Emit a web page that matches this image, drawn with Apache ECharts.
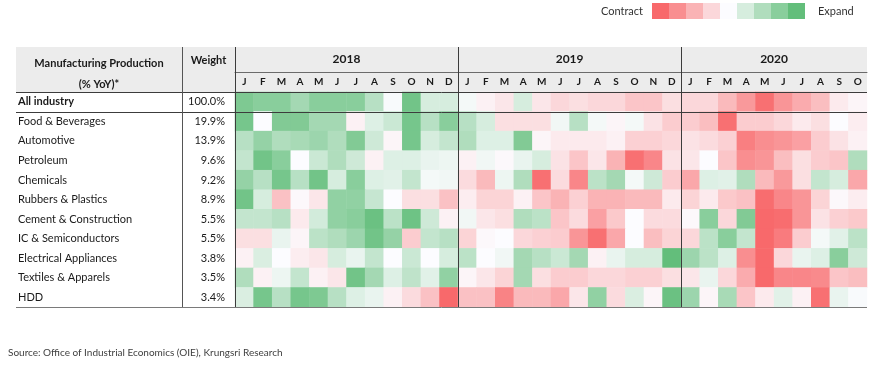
<!DOCTYPE html>
<html><head><meta charset="utf-8">
<script src="https://cdn.jsdelivr.net/npm/echarts@6/dist/echarts.min.js"></script>
<style>html,body{margin:0;padding:0;background:#fff}#c{width:870px;height:366px}</style>
</head><body><div id="c"></div>
<script>
// ---------------- data ----------------
const industries = ['All industry','Food & Beverages','Automotive','Petroleum','Chemicals','Rubbers & Plastics',
  'Cement & Construction','IC & Semiconductors','Electrical Appliances','Textiles & Apparels','HDD'];
const weights = ['100.0%','19.9%','13.9%','9.6%','9.2%','8.9%','5.5%','5.5%','3.8%','3.5%','3.4%'];
const years = ['2018','2019','2020'];
const monthsPerYear = [12, 12, 10];
const monthLetters = ['J','F','M','A','M','J','J','A','S','O','N','D'];
const legendLevels = [-4,-3,-2,-1,0,1,2,3,4];
const legendEnds = ['Contract', 'Expand'];
// colour-scale intensity read from the cell shades (-4 = strongest contraction, +4 = strongest expansion)
const allIndustry   = [3.3,3,3,2.3,3,3,3,1.8,0.1,3.6,1,1,   0.2,-0.3,-0.6,1,-0.6,-1,-0.8,-1,-1,-1.5,-1.5,-0.8,   -1,-1,-1.8,-2.7,-3.8,-2.8,-2.2,-1.7,-0.5,-0.2];
const foodBev       = [3.5,0,3.2,3.2,2.3,2.3,-0.3,0.8,1.3,3.5,1.8,3,   1.8,1,-0.8,-0.8,-0.8,0.3,1.8,0.2,-0.2,0.2,-0.7,-1.3,   -1.3,-1.7,-3.8,-1.3,-1.3,-1,-0.5,-0.8,0,-0.4];
const automotive    = [1.8,2.7,2,2.2,2.5,2,3.2,1.2,-0.2,3.5,1,1.5,   2,0.8,0.8,3.2,-0.2,-0.5,-0.5,-0.5,-0.3,-1.2,-1.2,-1,   -0.7,-0.9,-1.2,-3.4,-3,-2.8,-2.5,-1.3,-0.7,-0.3];
const petroleum     = [1.5,3.6,3,0,1.3,2,1.2,-0.3,0.8,0.8,0.5,0.4,   -0.3,0.3,-0.1,0.5,1,-0.7,-1.5,-0.6,-2,-3.8,-3.2,-0.7,   -0.6,0,-1.5,-3,-2.8,-1.7,-0.8,-1.3,-1.5,2];
const chemicals     = [2.7,1.8,3.5,1.8,3.6,1,3,0.8,0.7,1.5,0.2,0.3,   -0.9,-1.8,0.4,2,-3.8,-0.9,-3.2,1.7,2.3,0.2,1.2,-1.3,   -2.3,0.8,0.7,2,-1.8,-2.7,-0.8,1.5,1,-2.3];
const rubbers       = [3.6,1,-1.6,-0.1,-0.6,2.8,2.8,1.4,0,-0.8,-0.8,-1.6,   -0.4,-1.1,-1.1,-0.3,-1.5,-2,-1.2,-2,-2,-1.8,-1.8,-0.5,   -1.1,-0.5,-1.4,-1.6,-3.9,-3.2,-2.8,-1.1,-0.1,-0.4];
const cement        = [1.5,1.5,1.8,-0.5,1.1,2.8,3,3.8,1.7,3.7,1.2,-0.3,   0.3,-0.6,-0.8,2,1.7,-1.5,-0.9,-2.5,-1.4,0,-0.9,-0.9,   -0.1,3,-1,3.2,-4,-3.9,-2.8,-0.7,-1.2,-1.4];
const icSemi        = [-0.8,-0.8,0.5,-0.2,1.7,2,2.5,3.6,2.7,-1.3,1.5,1.8,   -1.1,-0.1,0,-1,-1.2,-1.3,-2.8,-3.8,-2.3,0,-1.7,-1.1,   -1,1.7,3,1.5,-4,-3.5,-1.3,0.2,0.7,1.7];
const electrical    = [-0.3,0.9,0,-0.4,-0.6,1,0.5,1.5,0,1.3,0,1,   1.7,0,0.3,2.3,1.8,1.3,2.3,-0.3,0.5,1,1,4,   2.5,1.7,0.8,-3,-4,-1,0.5,0.8,3,1.2];
const textiles      = [2,-0.3,0.4,1.5,-0.3,-0.6,3.6,2.3,0.8,1.6,0.7,2.8,   -0.2,-0.6,-1.1,2.3,-0.8,-1.3,-1.3,-1,-1,-1.2,-1.2,-0.8,   -0.6,0.5,-1,-2.2,-4,-3.2,-3.2,-3.1,-1.5,-1.7];
const hdd           = [0.9,3.5,1.8,3.5,3.3,1.8,0.8,0.5,-0.3,-0.9,-1.6,-4,   -1.6,-1.6,-3.3,-1.8,-1.8,-2.3,-0.6,2.8,-0.9,0.9,-0.2,3.8,   2.5,-0.2,2.2,-1.5,-0.5,0.7,-0.3,-3.8,0.5,0.1];
const rows = [allIndustry, foodBev, automotive, petroleum, chemicals, rubbers, cement, icSemi, electrical, textiles, hdd];

// ---------------- build ----------------
const palette = ['#F8696B', '#FCFCFF', '#63BE7B'];
const months = [];
monthsPerYear.forEach(n => { for (let i = 0; i < n; i++) months.push(monthLetters[i]); });
const nMonths = months.length;
const yearCenter = {};
let acc = 0;
monthsPerYear.forEach((n, i) => { yearCenter[acc + n / 2] = years[i]; acc += n; });
const yearBounds = [];
acc = 0;
monthsPerYear.forEach(n => { acc += n; yearBounds.push(acc); });

const heat = [];
rows.forEach((r, yi) => r.forEach((v, xi) => heat.push([xi, yi, v])));

const FONT = 'Lato, "Open Sans", sans-serif';
const TXT = '#1a1a1a';
const chart = echarts.init(document.getElementById('c'), null, { renderer: 'canvas' });

const legendLeft = 652, legendTop = 3, legendItemW = 17, legendItemH = 16;

const option = {
  animation: false,
  textStyle: { fontFamily: FONT },
  title: {
    text: 'Source: Office of Industrial Economics (OIE), Krungsri Research',
    left: 3, top: 343,
    textStyle: { fontFamily: FONT, fontSize: 10, fontWeight: 'normal', color: '#404040' }
  },
  grid: { left: 235, right: 2, top: 92, bottom: 59 },
  xAxis: [{
    type: 'category', data: months, position: 'top',
    axisLine: { show: false }, axisTick: { show: false }, splitLine: { show: false },
    axisLabel: { interval: 0, margin: 5, fontSize: 10, fontWeight: 'bold', color: TXT, fontFamily: FONT }
  }, {
    type: 'value', min: 0, max: nMonths, interval: 1, position: 'top', offset: 20,
    axisLine: { show: true, lineStyle: { color: '#6b6b6b', width: 1 } },
    axisTick: { show: false }, splitLine: { show: false },
    axisLabel: { margin: 7, fontSize: 12, fontWeight: 'bold', color: TXT, fontFamily: FONT,
      showMinLabel: true, showMaxLabel: true,
      formatter: v => yearCenter[v] || '' }
  }],
  yAxis: [{
    type: 'category', data: industries, inverse: true,
    axisLine: { show: false }, axisTick: { show: false }, splitLine: { show: false },
    axisLabel: { interval: 0, align: 'left', margin: 217, fontSize: 11, color: TXT, fontFamily: FONT,
      formatter: (v, i) => i === 0 ? '{b|' + v + '}' : v,
      rich: { b: { fontWeight: 'bold', fontSize: 11, color: TXT, fontFamily: FONT } } }
  }, {
    type: 'category', data: weights, inverse: true, position: 'left', offset: 0,
    axisLine: { show: false }, axisTick: { show: false }, splitLine: { show: false },
    axisLabel: { interval: 0, align: 'right', margin: 10, fontSize: 11, color: TXT, fontFamily: FONT }
  }],
  visualMap: [{
    type: 'continuous', show: false, seriesIndex: 0, dimension: 2,
    min: -4, max: 4, inRange: { color: palette }
  }, {
    type: 'piecewise', seriesIndex: 1, orient: 'horizontal',
    left: legendLeft, top: legendTop, itemWidth: legendItemW, itemHeight: legendItemH, itemGap: 0,
    itemSymbol: 'rect', padding: 0, showLabel: false, selectedMode: false, hoverLink: false,
    pieces: legendLevels.map(v => ({ value: v, color: echarts.color.lerp((v + 4) / 8, palette) }))
  }],
  series: [{
    type: 'heatmap', xAxisIndex: 0, yAxisIndex: 0, data: heat,
    itemStyle: { borderWidth: 0 }, emphasis: { disabled: true }
  }, {
    type: 'scatter', xAxisIndex: 0, yAxisIndex: 0, data: [], silent: true
  }]
};
chart.setOption(option);

// ---------------- table frame (derived from the axes) ----------------
const tableLeft = 16, labelDivider = 182, headTop = 47;
const gx = v => chart.convertToPixel({ xAxisIndex: 1 }, v);
const gyC = i => chart.convertToPixel({ yAxisIndex: 0 }, industries[i]);
const band = gyC(1) - gyC(0);
const gridTop = gyC(0) - band / 2;
const gridBottom = gyC(industries.length - 1) + band / 2;
const heatLeft = gx(0), heatRight = gx(nMonths);
const firstRowBottom = gridTop + band;
const line = (x1, y1, x2, y2, color, w) => ({
  type: 'line', z: 100, silent: true,
  shape: { x1, y1, x2, y2 }, style: { stroke: color, lineWidth: w || 1 }
});
const graphics = [
  { type: 'rect', z: -10, silent: true,
    shape: { x: tableLeft, y: headTop, width: heatRight - tableLeft, height: gridTop - headTop },
    style: { fill: '#ececec' } },
  line(tableLeft, Math.round(gridTop) + 0.5, heatRight, Math.round(gridTop) + 0.5, '#3c3c3c'),
  line(tableLeft, Math.round(firstRowBottom) + 0.5, heatRight, Math.round(firstRowBottom) + 0.5, '#3c3c3c'),
  line(tableLeft, Math.round(gridBottom) + 0.5, heatRight, Math.round(gridBottom) + 0.5, '#7a7a7a'),
  line(labelDivider + 0.5, headTop, labelDivider + 0.5, gridBottom, '#555'),
  line(Math.round(heatLeft) + 0.5, headTop, Math.round(heatLeft) + 0.5, gridBottom, '#3c3c3c')
];
yearBounds.slice(0, -1).forEach(b => {
  const x = Math.round(gx(b)) + 0.5;
  graphics.push(line(x, headTop, x, gridBottom, '#3c3c3c'));
});
const hdr = (text, x, y) => ({ type: 'text', z: 50, silent: true, x, y,
  style: { text, fill: TXT, font: 'bold 11px ' + FONT, align: 'center', verticalAlign: 'middle' } });
graphics.push(hdr('Manufacturing Production', (tableLeft + labelDivider) / 2, 63));
graphics.push(hdr('(% YoY)*', (tableLeft + labelDivider) / 2, 84));
graphics.push(hdr('Weight', (labelDivider + heatLeft) / 2, 60));
// legend end captions, beside the piecewise colour boxes
const legMidY = legendTop + legendItemH / 2;
const legTxt = (text, x, align) => ({ type: 'text', z: 50, silent: true, x, y: legMidY,
  style: { text, fill: '#333', font: '11px ' + FONT, align, verticalAlign: 'middle' } });
graphics.push(legTxt(legendEnds[0], legendLeft - 9, 'right'));
graphics.push(legTxt(legendEnds[1], legendLeft + legendLevels.length * legendItemW + 13, 'left'));
chart.setOption({ graphic: graphics });
</script></body></html>
